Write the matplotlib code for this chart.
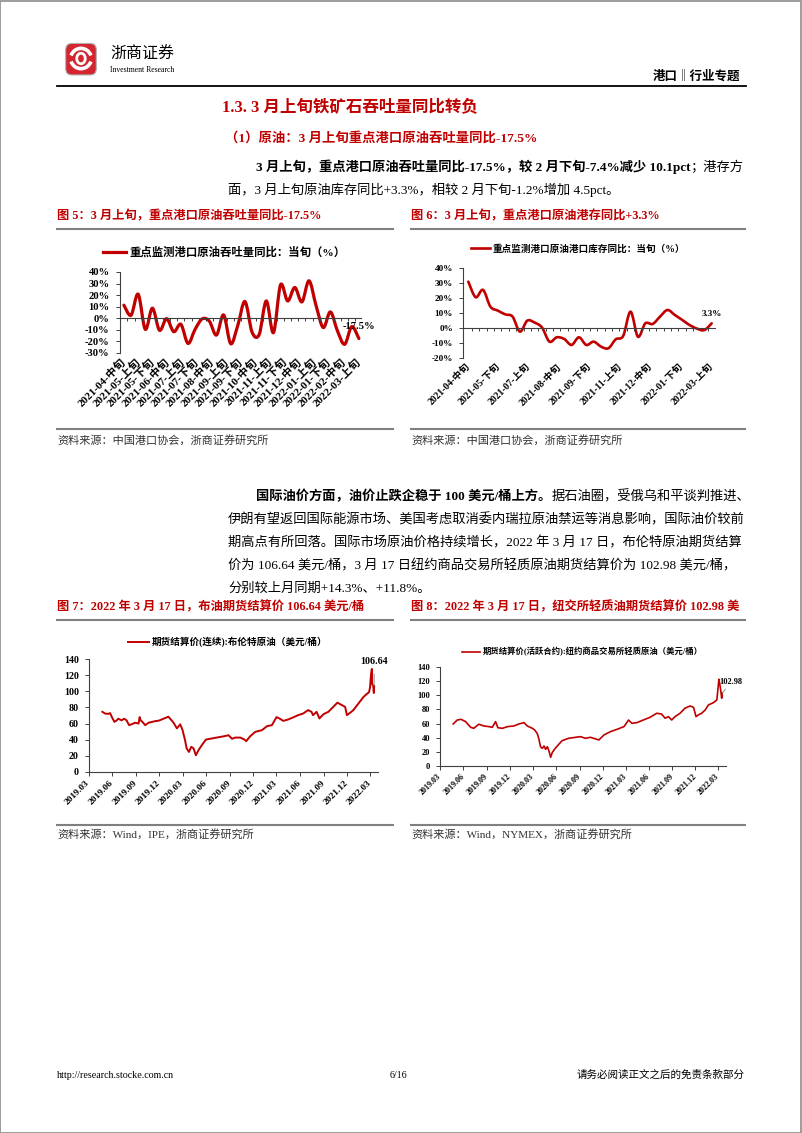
import numpy as np
import pandas as pd
import matplotlib
matplotlib.use('Agg')
import matplotlib.pyplot as plt
from matplotlib.path import Path
from matplotlib.patches import PathPatch, Rectangle, FancyBboxPatch, Arc
from matplotlib.lines import Line2D
from matplotlib.font_manager import FontProperties

# ---------------- data ----------------
throughput_labels = ['2021-04-中旬', '2021-05-上旬', '2021-05-下旬', '2021-06-中旬', '2021-07-上旬',
                     '2021-07-下旬', '2021-08-中旬', '2021-09-上旬', '2021-09-下旬', '2021-10-中旬',
                     '2021-11-上旬', '2021-11-下旬', '2021-12-中旬', '2022-01-上旬', '2022-01-下旬',
                     '2022-02-中旬', '2022-03-上旬']
throughput_yoy = [11.3, 2.6, 20.8, -9.5, 8.7, -10.4, -0.3, -11.6, -5.2, -21.7, -9.5, -0.5,
                  -2.5, -14.5, 2.9, -22.0, -6.0, 14.5, -12.0, -14.0, 15.0, -12.4, 28.9, 15.0,
                  26.6, 14.2, 32.4, 10.7, -8.0, 5.5, -11.0, -22.5, -7.2, -17.5]

inventory_labels = ['2021-04-中旬', '2021-05-下旬', '2021-07-上旬', '2021-08-中旬', '2021-09-下旬',
                    '2021-11-上旬', '2021-12-中旬', '2022-01-下旬', '2022-03-上旬']
inventory_yoy = [31.1, 20.7, 25.6, 14.4, 11.8, 9.3, 7.8, -2.2, 5.1, 3.8, 0.5, -8.9, -6.0, -7.1,
                 -11.1, -6.0, -11.1, -8.9, -12.2, -13.3, -7.3, -5.1, 11.1, -5.6, 3.3, 2.9, 7.8,
                 12.2, 8.9, 5.6, 2.2, -0.2, -1.2, 3.3]

brent_dates = ['2019-04-24', '2019-05-04', '2019-05-17', '2019-05-24', '2019-05-31', '2019-06-10',
               '2019-06-19', '2019-06-25', '2019-07-08', '2019-07-18', '2019-07-27', '2019-08-06',
               '2019-08-16', '2019-08-29', '2019-09-12', '2019-09-16', '2019-09-20', '2019-09-27',
               '2019-10-08', '2019-10-21', '2019-11-03', '2019-11-16', '2019-11-29', '2019-12-18',
               '2020-01-06', '2020-01-13', '2020-01-26', '2020-02-08', '2020-02-21', '2020-03-01',
               '2020-03-11', '2020-03-17', '2020-03-26', '2020-04-04', '2020-04-13', '2020-04-22',
               '2020-05-02', '2020-05-15', '2020-05-31', '2020-06-16', '2020-07-12', '2020-08-07',
               '2020-08-27', '2020-09-10', '2020-09-22', '2020-10-12', '2020-10-28', '2020-11-04',
               '2020-11-19', '2020-12-09', '2021-01-04', '2021-01-24', '2021-02-12', '2021-03-02',
               '2021-03-15', '2021-03-28', '2021-04-16', '2021-05-05', '2021-05-25', '2021-06-14',
               '2021-07-03', '2021-07-16', '2021-07-22', '2021-08-05', '2021-08-16', '2021-09-01',
               '2021-09-20', '2021-10-09', '2021-10-25', '2021-11-11', '2021-11-24', '2021-12-01',
               '2021-12-13', '2021-12-26', '2022-01-15', '2022-02-04', '2022-02-19', '2022-02-25',
               '2022-03-01', '2022-03-04', '2022-03-08', '2022-03-09', '2022-03-10', '2022-03-14',
               '2022-03-15', '2022-03-16', '2022-03-17']
brent_values = [74.6, 72.5, 72.0, 73.0, 68.0, 62.0, 64.0, 66.0, 64.0, 66.0, 64.0, 58.0,
                59.0, 61.0, 60.0, 68.0, 64.0, 62.0, 58.0, 61.0, 62.0, 63.0, 63.5, 66.0,
                68.5, 66.0, 61.0, 54.0, 59.0, 52.0, 39.0, 29.0, 24.6, 31.0, 29.0, 20.4,
                26.7, 33.0, 40.0, 41.0, 42.5, 44.0, 45.4, 41.0, 42.5, 42.5, 40.0, 38.0,
                44.0, 49.6, 51.7, 56.7, 58.0, 68.0, 66.0, 63.3, 65.0, 67.5, 70.4, 72.5,
                76.7, 74.6, 70.4, 74.6, 66.3, 71.7, 74.6, 80.8, 86.0, 83.0, 80.8, 70.4,
                73.3, 76.7, 85.0, 93.3, 97.5, 99.0, 105.0, 118.0, 128.0, 111.0, 109.0, 106.0,
                99.9, 98.0, 106.64]

wti_dates = ['2019-04-22', '2019-05-08', '2019-05-23', '2019-06-10', '2019-06-30', '2019-07-12',
             '2019-08-01', '2019-08-21', '2019-09-10', '2019-09-23', '2019-10-06', '2019-10-15',
             '2019-11-02', '2019-11-22', '2019-12-17', '2020-01-06', '2020-01-26', '2020-02-08',
             '2020-02-28', '2020-03-08', '2020-03-18', '2020-03-24', '2020-03-31', '2020-04-07',
             '2020-04-14', '2020-04-20', '2020-04-27', '2020-05-03', '2020-05-10', '2020-05-16',
             '2020-05-25', '2020-06-05', '2020-06-24', '2020-07-20', '2020-08-16', '2020-09-05',
             '2020-09-24', '2020-10-14', '2020-11-16', '2020-12-06', '2021-01-01', '2021-01-27',
             '2021-02-23', '2021-03-13', '2021-03-26', '2021-04-15', '2021-05-10', '2021-06-06',
             '2021-07-02', '2021-07-21', '2021-08-04', '2021-08-17', '2021-08-30', '2021-09-12',
             '2021-10-02', '2021-10-21', '2021-11-11', '2021-11-24', '2021-12-04', '2021-12-13',
             '2021-12-26', '2022-01-09', '2022-01-22', '2022-02-11', '2022-02-24', '2022-03-04',
             '2022-03-08', '2022-03-11', '2022-03-15', '2022-03-17']
wti_values = [59.4, 65.0, 66.0, 62.7, 54.6, 53.2, 59.0, 56.5, 55.6, 54.6, 62.7, 54.0,
              53.2, 55.6, 56.5, 59.4, 61.3, 56.5, 53.2, 50.8, 46.0, 39.0, 27.0, 24.7,
              28.0, 23.3, 27.0, 21.4, 11.9, 18.5, 23.3, 28.0, 35.6, 39.0, 40.4, 41.3,
              39.0, 40.4, 36.6, 43.7, 48.5, 51.8, 55.6, 65.0, 60.3, 61.3, 65.0, 68.9,
              74.6, 73.6, 67.5, 69.8, 65.0, 69.8, 74.6, 81.7, 85.0, 83.0, 69.8, 72.2,
              74.6, 79.3, 86.5, 89.8, 93.6, 123.0, 115.0, 108.0, 96.0, 102.98]

# ---------------- page setup ----------------
W, H = 802, 1133
RED = '#C00000'
LINE_GREY = '#808080'
CJK = ['Liberation Serif', 'Noto Sans CJK SC', 'DejaVu Sans']

fig = plt.figure(figsize=(W / 100, H / 100), dpi=100)
renderer = fig.canvas.get_renderer()


def rect(l, t, r, b):
    return [l / W, 1 - b / H, (r - l) / W, (b - t) / H]


def T(x, y, s, size, weight='normal', color='black', ha='left', va='center', family=None):
    return fig.text(x / W, 1 - y / H, s, fontsize=size, fontweight=weight, color=color,
                    ha=ha, va=va, family=family or CJK)


def mixed(x, y, parts, size, color='black'):
    for s, w in parts:
        t = T(x, y, s, size, weight=w, color=color)
        x += t.get_window_extent(renderer).width


def hline(y, x0, x1, color=LINE_GREY, lw=1.5):
    fig.add_artist(Line2D([x0 / W, x1 / W], [1 - y / H, 1 - y / H], color=color, lw=lw,
                          transform=fig.transFigure))


# page frame
fig.add_artist(Rectangle((0.0006, 0.0004), 0.9985, 0.999, fill=False, edgecolor='#8c8c8c',
                         lw=1.2, transform=fig.transFigure))

# logo
axl = fig.add_axes(rect(64, 41, 98, 76))
axl.set_xlim(0, 1)
axl.set_ylim(0, 1)
axl.axis('off')
axl.add_patch(FancyBboxPatch((0.05, 0.03), 0.9, 0.9, boxstyle='round,pad=0,rounding_size=0.18',
                             fc='#D32630', ec='#B0B0B0', lw=0.8))
axl.add_patch(Arc((0.5, 0.52), 0.62, 0.62, theta1=200, theta2=340, color='white', lw=2.6))
axl.add_patch(Arc((0.5, 0.48), 0.62, 0.62, theta1=20, theta2=160, color='white', lw=2.6))
axl.add_patch(Arc((0.5, 0.5), 0.25, 0.3, theta1=0, theta2=360, color='white', lw=2.0))

T(110, 54, '浙商证券', 11.5, family=['Noto Sans CJK SC'])
T(110, 70, 'Investment Research', 5.6, family=['Liberation Serif'])
T(740, 76, '港口‖行业专题', 9, weight='bold', ha='right', family=['Noto Sans CJK SC', 'DejaVu Sans'])
hline(85.5, 57, 746, color='black', lw=1.3)

# section headings
T(222, 108, '1.3. 3 月上旬铁矿石吞吐量同比转负', 11.9, weight='bold', color=RED)
T(225, 138, '（1）原油：3 月上旬重点港口原油吞吐量同比-17.5%', 9.6, weight='bold', color=RED)

BODY = 9.55
mixed(256, 167, [('3 月上旬，重点港口原油吞吐量同比-17.5%，较 2 月下旬-7.4%减少 10.1pct', 'bold'),
                 ('；港存方', 'normal')], BODY)
mixed(228, 190, [('面，3 月上旬原油库存同比+3.3%，相较 2 月下旬-1.2%增加 4.5pct。', 'normal')], BODY)

# figure titles row 1
TS = 8.85
T(57, 216, '图 5：3 月上旬，重点港口原油吞吐量同比-17.5%', TS, weight='bold', color=RED)
T(411, 216, '图 6：3 月上旬，重点港口原油港存同比+3.3%', TS, weight='bold', color=RED)
hline(229, 57, 393)
hline(229, 411, 745)
hline(429, 57, 393)
hline(429, 411, 745)
T(57, 440, '资料来源：中国港口协会，浙商证券研究所', 8, color='#333333')
T(411, 440, '资料来源：中国港口协会，浙商证券研究所', 8, color='#333333')

# paragraph 2
mixed(256, 497, [('国际油价方面，油价止跌企稳于 100 美元/桶上方。', 'bold'),
                 ('据石油圈，受俄乌和平谈判推进、', 'normal')], BODY)
mixed(228, 520, [('伊朗有望返回国际能源市场、美国考虑取消委内瑞拉原油禁运等消息影响，国际油价较前', 'normal')], BODY)
mixed(228, 543, [('期高点有所回落。国际市场原油价格持续增长，2022 年 3 月 17 日，布伦特原油期货结算', 'normal')], BODY)
mixed(228, 566, [('价为 106.64 美元/桶，3 月 17 日纽约商品交易所轻质原油期货结算价为 102.98 美元/桶，', 'normal')], BODY)
mixed(228, 589, [('分别较上月同期+14.3%、+11.8%。', 'normal')], BODY)

# figure titles row 2
T(57, 607, '图 7：2022 年 3 月 17 日，布油期货结算价 106.64 美元/桶', TS, weight='bold', color=RED)
T(411, 607, '图 8：2022 年 3 月 17 日，纽交所轻质油期货结算价 102.98 美', TS, weight='bold', color=RED)
hline(620, 57, 393)
hline(620, 411, 745)
hline(825, 57, 393)
hline(825, 411, 745)
T(57, 834, '资料来源：Wind，IPE，浙商证券研究所', 8, color='#333333')
T(411, 834, '资料来源：Wind，NYMEX，浙商证券研究所', 8, color='#333333')

# footer
T(57, 1075, 'http://research.stocke.com.cn', 7.2, family=['Liberation Serif'])
T(398, 1075, '6/16', 7.2, ha='center', family=['Liberation Serif'])
T(745, 1075, '请务必阅读正文之后的免责条款部分', 7.6, ha='right', family=['Noto Sans CJK SC'])


# ---------------- helpers for charts ----------------
def smooth_path(xs, ys):
    verts = [(xs[0], ys[0])]
    codes = [Path.MOVETO]
    n = len(xs)
    for i in range(n - 1):
        p0 = (xs[i - 1], ys[i - 1]) if i > 0 else (xs[i], ys[i])
        p1 = (xs[i], ys[i])
        p2 = (xs[i + 1], ys[i + 1])
        p3 = (xs[i + 2], ys[i + 2]) if i + 2 < n else p2
        c1 = (p1[0] + (p2[0] - p0[0]) / 6, p1[1] + (p2[1] - p0[1]) / 6)
        c2 = (p2[0] - (p3[0] - p1[0]) / 6, p2[1] - (p3[1] - p1[1]) / 6)
        verts += [c1, c2, p2]
        codes += [Path.CURVE4] * 3
    return Path(verts, codes)


def fp(size, weight='bold', family=None):
    return FontProperties(family=family or CJK, weight=weight, size=size)


AXC = '#404040'


def dekad_chart(box, pads, values, labels, ylim, lw, ysize, xsize, leg_text, leg_center, leg_size,
                end_label, end_offset):
    ax = fig.add_axes(rect(*box))
    n = len(values)
    x = np.arange(n)
    ax.add_patch(PathPatch(smooth_path(x, values), fill=False, edgecolor=RED, lw=lw,
                           capstyle='round', joinstyle='round'))
    ax.set_xlim(-pads[0], n - 1 + pads[1])
    ax.set_ylim(*ylim)
    for s in ['top', 'right']:
        ax.spines[s].set_visible(False)
    ax.spines['left'].set_color(AXC)
    ax.spines['left'].set_linewidth(0.8)
    ax.spines['bottom'].set_position(('data', 0))
    ax.spines['bottom'].set_color(AXC)
    ax.spines['bottom'].set_linewidth(0.8)
    ax.set_xticks(np.arange(0.5, n - 1, 1))
    ax.tick_params(axis='x', direction='out', length=2.2, width=0.7, color=AXC, labelbottom=False)
    yt = np.arange(ylim[0], ylim[1] + 1, 10)
    ax.set_yticks(yt, labels=[f'{v:.0f}%' for v in yt], fontproperties=fp(ysize))
    ax.tick_params(axis='y', direction='out', length=3, width=0.7, color=AXC, pad=4.5)
    sec = ax.secondary_xaxis(0.0)
    sec.spines['bottom'].set_visible(False)
    pos = np.linspace(0, n - 1, len(labels))
    sec.set_xticks(pos, labels=labels, rotation=45, ha='right', va='center',
                   rotation_mode='anchor', fontproperties=fp(xsize))
    sec.tick_params(length=0, pad=5)
    ax.annotate(end_label, xy=(x[-1], values[-1]), xytext=end_offset, textcoords='offset points',
                ha='center', va='center', fontproperties=fp(ysize))
    proxy = Line2D([], [], color=RED, lw=lw)
    ax.legend([proxy], [leg_text], loc='center', bbox_to_anchor=(leg_center[0] / W, 1 - leg_center[1] / H),
              bbox_transform=fig.transFigure, frameon=False, prop=fp(leg_size),
              handlelength=2.0, handletextpad=0.3, borderpad=0)
    return ax


dekad_chart((120, 272, 361, 353), (0.55, 0.3), throughput_yoy, throughput_labels, (-30, 40), 2.3, 7.6, 8.0,
            '重点监测港口原油吞吐量同比：当旬（%）', (224, 252), 8.2, '-17.5%', (0, 9))
dekad_chart((463.5, 268.3, 715, 358.3), (0.65, 0.45), inventory_yoy, inventory_labels, (-20, 40), 1.9, 6.6, 6.9,
            '重点监测港口原油港口库存同比：当旬（%）', (578, 249), 6.9, '3.3%', (0, 7))


def price_chart(box, dates, values, lw, ysize, xsize, leg_text, leg_center, leg_size, end_label, end_offset):
    ax = fig.add_axes(rect(*box))
    d = pd.to_datetime(dates)
    line, = ax.plot(d, values, color=RED, lw=lw)
    ax.set_xlim(pd.Timestamp('2019-03-01'), pd.Timestamp('2022-04-01'))
    ax.set_ylim(0, 140)
    for s in ['top', 'right']:
        ax.spines[s].set_visible(False)
    for s in ['left', 'bottom']:
        ax.spines[s].set_color(AXC)
        ax.spines[s].set_linewidth(0.8)
    yt = np.arange(0, 141, 20)
    ax.set_yticks(yt, labels=[f'{v}' for v in yt], fontproperties=fp(ysize))
    ax.tick_params(axis='y', direction='out', length=3, width=0.7, color=AXC, pad=4)
    ticks = pd.date_range('2019-03-01', '2022-03-01', freq='3MS')
    ax.set_xticks(ticks, labels=[t.strftime('%Y.%m') for t in ticks], rotation=45, ha='right',
                  va='center', rotation_mode='anchor', fontproperties=fp(xsize))
    ax.tick_params(axis='x', direction='out', length=3, width=0.7, color=AXC, pad=4)
    ax.annotate(end_label, xy=(d[-1], values[-1]), xytext=end_offset, textcoords='offset points',
                ha='center', va='center', fontproperties=fp(ysize),
                arrowprops=dict(arrowstyle='-', color='#808080', lw=0.6, shrinkA=4, shrinkB=0))
    ax.legend([line], [leg_text], loc='center', bbox_to_anchor=(leg_center[0] / W, 1 - leg_center[1] / H),
              bbox_transform=fig.transFigure, frameon=False, prop=fp(leg_size),
              handlelength=2.2, handletextpad=0.3, borderpad=0)
    return ax


price_chart((88.5, 659.3, 378, 771.7), brent_dates, brent_values, 1.4, 7.2, 6.8,
            '期货结算价(连续):布伦特原油（美元/桶）', (228, 642), 6.9, '106.64', (0, 18))
price_chart((440, 667.3, 726, 765.7), wti_dates, wti_values, 1.2, 6.0, 5.8,
            '期货结算价(活跃合约):纽约商品交易所轻质原油（美元/桶）', (582, 652), 6.0, '102.98', (6, 8))

fig.savefig('out.png', dpi=100)
